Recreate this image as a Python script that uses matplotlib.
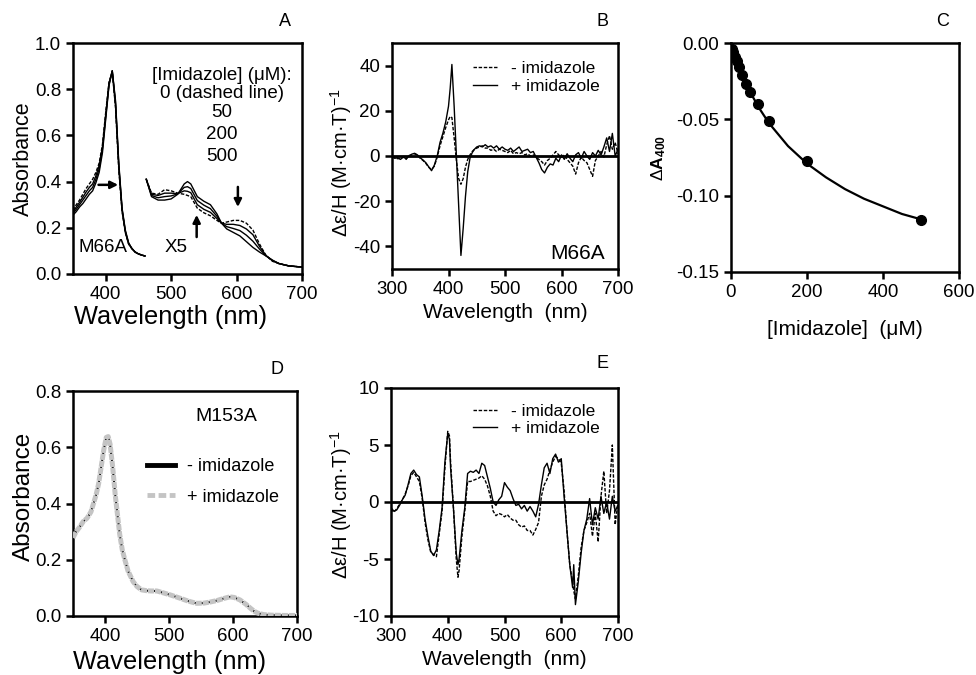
import matplotlib
matplotlib.use("Agg")
import matplotlib.pyplot as plt
from matplotlib.lines import Line2D

plt.rcParams['font.family'] = ['Liberation Sans', 'DejaVu Sans']
plt.rcParams['axes.unicode_minus'] = False
plt.rcParams['mathtext.fontset'] = 'custom'
plt.rcParams['mathtext.rm'] = 'Liberation Sans'
plt.rcParams['mathtext.it'] = 'Liberation Sans:italic'
plt.rcParams['mathtext.bf'] = 'Liberation Sans:bold'
plt.rcParams['lines.scale_dashes'] = False

# ---------------- Panel A data (M66A) ----------------
wl_A_soret = [350, 355, 360, 365, 370, 375, 380, 385, 390, 395, 400, 405, 410,
              415, 420, 425, 430, 435, 440, 445, 450, 455, 460]
A_soret_0 = [0.275, 0.30, 0.32, 0.345, 0.37, 0.39, 0.41, 0.44, 0.48, 0.56, 0.70, 0.83, 0.875,
             0.72, 0.45, 0.27, 0.18, 0.13, 0.11, 0.095, 0.087, 0.082, 0.078]
A_soret_50 = [0.268, 0.29, 0.31, 0.332, 0.355, 0.375, 0.39, 0.425, 0.47, 0.55, 0.69, 0.825, 0.878,
              0.73, 0.46, 0.275, 0.18, 0.13, 0.11, 0.095, 0.087, 0.082, 0.078]
A_soret_200 = [0.262, 0.28, 0.30, 0.32, 0.34, 0.36, 0.375, 0.41, 0.455, 0.54, 0.68, 0.82, 0.88,
               0.74, 0.47, 0.28, 0.185, 0.133, 0.11, 0.095, 0.087, 0.082, 0.078]
A_soret_500 = [0.255, 0.27, 0.29, 0.305, 0.325, 0.345, 0.36, 0.395, 0.44, 0.525, 0.67, 0.815, 0.88,
               0.75, 0.48, 0.285, 0.19, 0.135, 0.11, 0.095, 0.087, 0.082, 0.078]

wl_A_vis = [462, 470, 480, 490, 500, 510, 520, 525, 530, 540, 550, 560, 570, 577,
            585, 595, 605, 615, 625, 635, 645, 655, 665, 680, 700]
A_vis_0 = [0.41, 0.35, 0.345, 0.365, 0.36, 0.35, 0.345, 0.34, 0.335, 0.285, 0.265, 0.252, 0.232, 0.22,
           0.225, 0.232, 0.232, 0.22, 0.19, 0.13, 0.08, 0.055, 0.045, 0.035, 0.03]
A_vis_50 = [0.41, 0.345, 0.34, 0.35, 0.35, 0.348, 0.36, 0.358, 0.352, 0.30, 0.28, 0.267, 0.24, 0.22,
            0.215, 0.215, 0.21, 0.195, 0.17, 0.12, 0.08, 0.057, 0.045, 0.035, 0.03]
A_vis_200 = [0.41, 0.34, 0.33, 0.335, 0.338, 0.347, 0.375, 0.378, 0.37, 0.318, 0.298, 0.283, 0.25, 0.22,
             0.205, 0.197, 0.188, 0.168, 0.142, 0.108, 0.079, 0.058, 0.045, 0.035, 0.03]
A_vis_500 = [0.41, 0.335, 0.32, 0.32, 0.325, 0.345, 0.39, 0.40, 0.39, 0.335, 0.315, 0.30, 0.26, 0.22,
             0.195, 0.18, 0.165, 0.14, 0.115, 0.095, 0.078, 0.06, 0.045, 0.035, 0.03]

# ---------------- Panel B data (MCD, M66A) ----------------
wl_B = [300, 305, 310, 315, 320, 325, 330, 335, 340, 345, 350, 355, 360, 365, 370, 375,
        380, 385, 390, 395, 400,
        403, 406, 410, 414, 418, 422, 426, 430, 434, 438, 442, 446, 450,
        455, 460, 465, 470, 475, 480, 485, 490, 495, 500, 505, 510, 515, 520, 525, 530,
        535, 540, 545, 550, 555, 560, 565, 570, 575, 580, 585, 590, 595, 600, 605, 610,
        615, 620, 625, 630, 635, 640, 645, 650, 655, 660, 665, 670, 675, 680, 685, 690,
        695, 700]
B_plus = [-0.5, -1.0, -0.8, -1.5, -0.5, -1.2, 0.0, 0.8, 1.2, 0.5, -0.8, -1.8, -3.0, -4.8, -6.5, -4.0,
          0.0, 6.0, 10.0, 15.0, 22.0,
          30.0, 40.5, 22.0, 0.0, -22.0, -44.0, -32.0, -18.0, -7.0, -1.0, 1.5, 3.0, 4.0,
          4.5, 4.0, 5.0, 4.0, 4.5, 3.5, 4.5, 3.0, 4.0, 3.0, 2.5, 3.5, 2.0, 3.0, 4.0, 2.0,
          2.5, 3.0, 1.5, 2.0, -0.5, -3.0, -6.0, -7.5, -5.0, -3.5, -4.0, -1.0, -2.5, 0.5, -1.5, 1.0,
          -1.0, -2.5, 0.5, 1.5, -1.0, 2.0, 0.0, -1.5, 1.5, 0.0, 2.5, 0.5, 4.0, 8.0, 2.0, 10.0,
          0.0, 3.0]
B_minus = [-0.3, -0.8, -1.2, -1.0, -0.3, -1.5, 0.2, 0.5, 1.0, 0.3, -1.0, -2.0, -3.3, -5.0, -6.0, -4.5,
           -0.5, 4.5, 8.5, 12.5, 16.0,
           17.5, 17.0, 8.0, -2.0, -10.0, -12.5, -10.0, -5.0, -1.5, 0.5, 2.0, 3.0, 3.5,
           4.0, 4.5, 3.5, 3.5, 2.5, 3.0, 2.0, 3.0, 2.5, 2.0, 1.5, 2.5, 1.0, 1.5, 1.0, 1.5,
           0.5, 1.0, 0.0, 0.5, -0.5, -1.5, -2.5, -4.0, -2.0, -1.0, 0.5, 2.0, 0.5, -0.5, 0.5, -1.5,
           -3.0, -4.5, -8.0, -3.0, -0.5, -2.0, -3.0, -6.0, -9.0, -2.0, 0.0, 2.0, -0.5, 5.0, 9.0, 3.0,
           6.0, 1.0]

# ---------------- Panel C data (titration) ----------------
imid_conc = [2, 5, 10, 15, 20, 30, 40, 50, 70, 100, 200, 500]
dA400 = [-0.004, -0.006, -0.009, -0.012, -0.016, -0.021, -0.027, -0.032, -0.040, -0.051, -0.077, -0.116]
fit_conc = [0, 10, 25, 50, 75, 100, 150, 200, 250, 300, 350, 400, 450, 500]
fit_dA = [-0.004, -0.011, -0.0196, -0.032, -0.043, -0.0525, -0.0675, -0.079, -0.088,
          -0.0957, -0.102, -0.107, -0.112, -0.1155]

# ---------------- Panel D data (M153A absorbance) ----------------
wl_D = [350, 355, 360, 366, 372, 378, 382, 386, 390, 394, 398, 402, 405, 408, 412, 416, 420,
        423, 427, 431, 436, 444, 450, 457, 465, 472, 481, 490, 502, 515, 530, 543, 555,
        565, 575, 585, 595, 602, 611, 620, 627, 633, 639, 648, 660, 680, 700]
D_minus = [0.278, 0.30, 0.315, 0.336, 0.348, 0.37, 0.40, 0.43, 0.47, 0.53, 0.59, 0.635, 0.638, 0.61,
           0.53, 0.43, 0.35, 0.29, 0.235, 0.20, 0.16, 0.122, 0.105, 0.093, 0.09, 0.089, 0.089,
           0.083, 0.075, 0.065, 0.053, 0.045, 0.046, 0.05, 0.055, 0.062, 0.068, 0.066, 0.057,
           0.042, 0.028, 0.017, 0.01, 0.005, 0.003, 0.002, 0.002]
D_plus = [0.278, 0.30, 0.315, 0.336, 0.348, 0.37, 0.40, 0.43, 0.47, 0.53, 0.59, 0.635, 0.638, 0.61,
          0.53, 0.43, 0.35, 0.29, 0.235, 0.20, 0.16, 0.122, 0.105, 0.093, 0.09, 0.089, 0.089,
          0.083, 0.075, 0.065, 0.053, 0.045, 0.046, 0.05, 0.055, 0.062, 0.068, 0.066, 0.057,
          0.042, 0.028, 0.017, 0.01, 0.005, 0.003, 0.002, 0.002]

# ---------------- Panel E data (MCD, M153A) ----------------
wl_E = [300, 305, 310, 315, 320, 325, 330, 335, 340, 345, 350, 355, 360, 365, 370, 375, 380,
        385, 390, 395, 400, 403, 405, 410, 415, 418, 420, 425, 430, 435, 440, 445, 450, 455,
        460, 465, 470, 475, 480, 485, 490, 495, 500, 505, 510, 515, 520, 525, 530, 535, 540,
        545, 550, 555, 560, 565, 570, 575, 580, 585, 590, 595, 600, 605, 610, 615, 620, 622,
        625, 630, 635, 640, 645, 650, 655, 660, 665, 670, 675, 680, 685, 690, 695, 700]
E_plus = [-0.5, -0.8, -0.7, -0.3, 0.2, 0.6, 1.5, 2.5, 2.8, 2.4, 2.2, 0.5, -1.5, -3.0, -4.3, -4.7, -4.2,
          -2.5, -0.5, 3.5, 6.0, 5.5, 3.0, -0.5, -4.5, -5.5, -5.0, -2.5, -0.5, 2.5, 2.7, 2.6, 2.8, 2.5,
          3.4, 3.2, 2.2, 1.2, 0.0, -0.3, 0.2, 0.5, 1.7, 1.3, 1.0, 0.3, -0.3, -0.2, -0.6, -0.3, -0.8,
          -0.4, -0.8, -1.3, -0.2, 1.5, 3.0, 3.4, 2.5, 3.8, 4.2, 3.5, 3.8, 0.5, -2.5, -5.5, -7.5, -5.5,
          -9.0, -7.0, -4.5, -2.5, -1.5, 0.3, -2.0, -0.5, -1.5, 0.5, -1.0, 0.0, -1.5, 0.5, -0.8, -0.3]
E_minus = [-0.6, -0.9, -0.6, -0.2, 0.2, 0.7, 1.4, 2.3, 2.6, 2.2, 1.8, 0.3, -1.8, -3.3, -4.4, -4.6, -4.8,
           -2.8, -0.8, 3.0, 6.2, 5.8, 3.5, -0.5, -5.0, -6.6, -6.0, -3.0, -0.8, 1.8, 1.8, 1.9, 2.0, 2.1,
           2.3, 2.0, 1.4, 0.5, -0.8, -1.2, -1.0, -1.1, -1.3, -1.1, -1.4, -1.6, -1.6, -2.0, -2.2, -2.1, -2.5,
           -2.5, -2.9, -2.4, -1.8, 0.5, 1.5, 2.0, 2.8, 3.5, 4.0, 3.8, 3.4, 1.0, -2.5, -5.5, -7.0, -7.8,
           -8.5, -6.5, -4.0, -2.5, -1.8, -1.0, -3.0, -1.0, -3.5, 0.5, 2.7, -1.0, 1.0, 5.0, -2.0, 0.0]

# ---------------- Figure ----------------
W, H = 976, 675
fig = plt.figure(figsize=(W / 100, H / 100), dpi=100)


def rect(l, t, r, b):
    return [l / W, 1 - b / H, (r - l) / W, (b - t) / H]


SP = 1.8
TICK_FS = 13.5


def style(ax):
    for s in ax.spines.values():
        s.set_linewidth(SP)
    ax.tick_params(direction='out', length=5, width=SP, labelsize=TICK_FS, pad=3.5)


dash_short = (0, (2.5, 1.2))

# Panel A
axA = fig.add_axes(rect(73, 43, 302, 274))
style(axA)
lw_spec = 1.0
axA.plot(wl_A_soret, A_soret_0, color='black', lw=lw_spec, ls=dash_short)
axA.plot(wl_A_soret, A_soret_50, color='black', lw=lw_spec)
axA.plot(wl_A_soret, A_soret_200, color='black', lw=lw_spec)
axA.plot(wl_A_soret, A_soret_500, color='black', lw=lw_spec)
axA.plot(wl_A_vis, A_vis_0, color='black', lw=lw_spec, ls=dash_short)
axA.plot(wl_A_vis, A_vis_50, color='black', lw=lw_spec)
axA.plot(wl_A_vis, A_vis_200, color='black', lw=lw_spec)
axA.plot(wl_A_vis, A_vis_500, color='black', lw=lw_spec)
axA.set_xlim(350, 700)
axA.set_ylim(0, 1.0)
axA.set_xticks([400, 500, 600, 700])
axA.set_yticks([0.0, 0.2, 0.4, 0.6, 0.8, 1.0])
axA.set_yticklabels(['0.0', '0.2', '0.4', '0.6', '0.8', '1.0'])
axA.set_xlabel('Wavelength (nm)', fontsize=18.3, labelpad=1)
axA.xaxis.set_label_coords(0.428, -0.135)
axA.set_ylabel('Absorbance', fontsize=15.5)
axA.yaxis.set_label_coords(-0.17, 0.5)
for txt, yy in [('[Imidazole] (μM):', 0.858), ('0 (dashed line)', 0.78), ('50', 0.697),
                ('200', 0.603), ('500', 0.508)]:
    axA.text(578, yy, txt, fontsize=13.5, ha='center', va='center')
axA.text(396, 0.113, 'M66A', fontsize=13.5, ha='center', va='center')
axA.text(507, 0.113, 'X5', fontsize=13.5, ha='center', va='center')
arr = dict(arrowstyle='-|>', color='black', lw=1.8, mutation_scale=11, shrinkA=0, shrinkB=0)
axA.annotate('', xy=(419, 0.386), xytext=(389, 0.386), arrowprops=arr)
axA.annotate('', xy=(602, 0.29), xytext=(602, 0.377), arrowprops=arr)
axA.annotate('', xy=(539, 0.256), xytext=(539, 0.16), arrowprops=arr)

# Panel B
axB = fig.add_axes(rect(392, 43, 618, 269))
style(axB)
axB.axhline(0, color='black', lw=2.0, zorder=1)
axB.plot(wl_B, B_minus, color='black', lw=1.0, ls=dash_short, label='- imidazole', zorder=2)
axB.plot(wl_B, B_plus, color='black', lw=1.0, label='+ imidazole', zorder=2)
axB.set_xlim(300, 700)
axB.set_ylim(-50, 50)
axB.set_xticks([300, 400, 500, 600, 700])
axB.set_yticks([-40, -20, 0, 20, 40])
axB.set_xlabel('Wavelength  (nm)', fontsize=15, labelpad=4)
axB.set_ylabel('Δε/H (M·cm·T)$^{-1}$', fontsize=14.5)
axB.yaxis.set_label_coords(-0.168, 0.47)
axB.legend(loc='center left', bbox_to_anchor=(0.358, 0.847), frameon=False, fontsize=12.5,
           borderpad=0, borderaxespad=0, handlelength=1.4, handletextpad=0.8, labelspacing=0.15)
axB.text(0.94, 0.07, 'M66A', transform=axB.transAxes, fontsize=15, ha='right', va='center')

# Panel C
axC = fig.add_axes(rect(731, 43, 959, 272))
style(axC)
axC.plot(fit_conc, fit_dA, color='black', lw=1.6)
axC.plot(imid_conc, dA400, 'o', color='black', ms=7)
axC.set_xlim(0, 600)
axC.set_ylim(-0.15, 0.0)
axC.set_xticks([0, 200, 400, 600])
axC.set_yticks([-0.15, -0.10, -0.05, 0.0])
axC.set_yticklabels(['-0.15', '-0.10', '-0.05', '0.00'])
axC.set_xlabel('[Imidazole]  (μM)', fontsize=15, labelpad=14)
axC.set_ylabel('Δ$\\mathbf{A}_{\\mathbf{400}}$', fontsize=12.5, labelpad=6)

# Panel D
axD = fig.add_axes(rect(73, 391, 297, 616))
style(axD)
axD.plot(wl_D, D_minus, color='black', lw=1.5, zorder=2)
axD.plot(wl_D, D_plus, color='#c4c4c4', lw=3.6, dashes=(4.5, 0.6), zorder=3)
axD.set_xlim(350, 700)
axD.set_ylim(0, 0.8)
axD.set_xticks([400, 500, 600, 700])
axD.set_yticks([0.0, 0.2, 0.4, 0.6, 0.8])
axD.set_yticklabels(['0.0', '0.2', '0.4', '0.6', '0.8'])
axD.set_xlabel('Wavelength (nm)', fontsize=18.3, labelpad=1)
axD.xaxis.set_label_coords(0.43, -0.15)
axD.set_ylabel('Absorbance', fontsize=17.5)
axD.yaxis.set_label_coords(-0.17, 0.53)
hD = [Line2D([], [], color='black', lw=3.5),
      Line2D([], [], color='#c4c4c4', lw=3.5, dashes=(5.5, 2.5))]
axD.legend(hD, ['- imidazole', '+ imidazole'], loc='center left', bbox_to_anchor=(0.33, 0.596),
           frameon=False, fontsize=13, borderpad=0, borderaxespad=0, handlelength=1.55,
           handletextpad=0.65, labelspacing=0.75)
axD.text(0.685, 0.885, 'M153A', transform=axD.transAxes, fontsize=14, ha='center', va='center')

# Panel E
axE = fig.add_axes(rect(391, 388, 618, 616))
style(axE)
axE.axhline(0, color='black', lw=2.0, zorder=1)
axE.plot(wl_E, E_minus, color='black', lw=1.0, ls=dash_short, label='- imidazole', zorder=2)
axE.plot(wl_E, E_plus, color='black', lw=1.0, label='+ imidazole', zorder=2)
axE.set_xlim(300, 700)
axE.set_ylim(-10, 10)
axE.set_xticks([300, 400, 500, 600, 700])
axE.set_yticks([-10, -5, 0, 5, 10])
axE.set_xlabel('Wavelength  (nm)', fontsize=15, labelpad=4)
axE.set_ylabel('Δε/H (M·cm·T)$^{-1}$', fontsize=14.5)
axE.yaxis.set_label_coords(-0.163, 0.49)
axE.legend(loc='center left', bbox_to_anchor=(0.361, 0.86), frameon=False, fontsize=12.5,
           borderpad=0, borderaxespad=0, handlelength=1.4, handletextpad=0.8, labelspacing=0.15)

# Panel letters
for letter, px, py in [('A', 285, 21), ('B', 602, 21), ('C', 943, 21), ('D', 277, 369), ('E', 602, 363)]:
    fig.text(px / W, 1 - py / H, letter, fontsize=13, ha='center', va='center')

fig.savefig('out.png', dpi=100)
